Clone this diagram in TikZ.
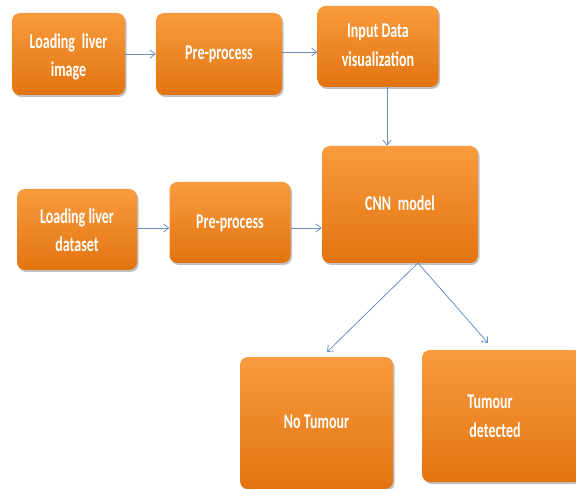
\documentclass[tikz,border=0pt]{standalone}
\usepackage{fontspec}
\setmainfont{Carlito}
\usetikzlibrary{arrows.meta,shadows}
\definecolor{otop}{HTML}{F99B3E}
\definecolor{obot}{HTML}{E2740F}
\definecolor{arr}{HTML}{6A8FC4}
\newcommand\bt[1]{\scalebox{1}[1.5]{\def\arraystretch{1.12}\begin{tabular}{@{}c@{}}#1\end{tabular}}}
\tikzset{
  boxtext/.style={text=white, font=\bfseries\fontsize{14}{17}\selectfont, align=center, inner sep=0pt},
  box/.style={boxtext, rounded corners=8pt, top color=otop, bottom color=obot, draw=none,
    drop shadow={shadow xshift=1.5pt, shadow yshift=-2pt, opacity=0.35, fill=black!70}},
  conn/.style={draw=arr, line width=0.8pt, -{Straight Barb[length=5pt,width=8pt]}}
}
\begin{document}
\begin{tikzpicture}[x=1pt,y=-1pt]
\useasboundingbox (0,0) rectangle (576,489);
\node[box, minimum width=113pt, minimum height=82pt] (a) at (68.5,54) {};
\node[boxtext] (at) at (68.5,57) {\bt{Loading\enspace liver\\image}};
\node[box, minimum width=126pt, minimum height=82pt] (b) at (219,54) {\bt{Pre-process}};
\node[box, minimum width=121pt, minimum height=81pt] (c) at (378,46.5) {\bt{Input Data\\visualization}};
\node[box, minimum width=120pt, minimum height=81pt] (d) at (77,229.5) {};
\node[boxtext] (dt) at (77,232) {\bt{Loading liver\\dataset}};
\node[box, minimum width=121pt, minimum height=81pt] (e) at (230,222.5) {\bt{Pre-process}};
\node[box, minimum width=156pt, minimum height=117pt] (f) at (400,204.5) {\bt{CNN\enspace model}};
\node[box, minimum width=153pt, minimum height=132pt] (g) at (316.5,423) {\bt{No Tumour}};
\node[box, minimum width=160pt, minimum height=132pt] (h) at (502,416) {};
\node[boxtext] (ht) at (490,417.5) {\bt{Tumour\\\hspace*{10pt}detected}};
\coordinate (f1) at (418,263);
\coordinate (g1) at (327,352);
\coordinate (h1) at (488,343);
\draw[conn] (a.east |- 0,54) -- (b.west |- 0,54);
\draw[conn] (b.east |- 0,52) -- (c.west |- 0,52);
\draw[conn] (c.south -| 387,0) -- (f.north -| 387,0);
\draw[conn] (d.east |- 0,228) -- (e.west |- 0,228);
\draw[conn] (e.east |- 0,228) -- (f.west |- 0,228);
\draw[conn] (f1) -- (g1);
\draw[conn] (f1) -- (h1);
\end{tikzpicture}
\end{document}
